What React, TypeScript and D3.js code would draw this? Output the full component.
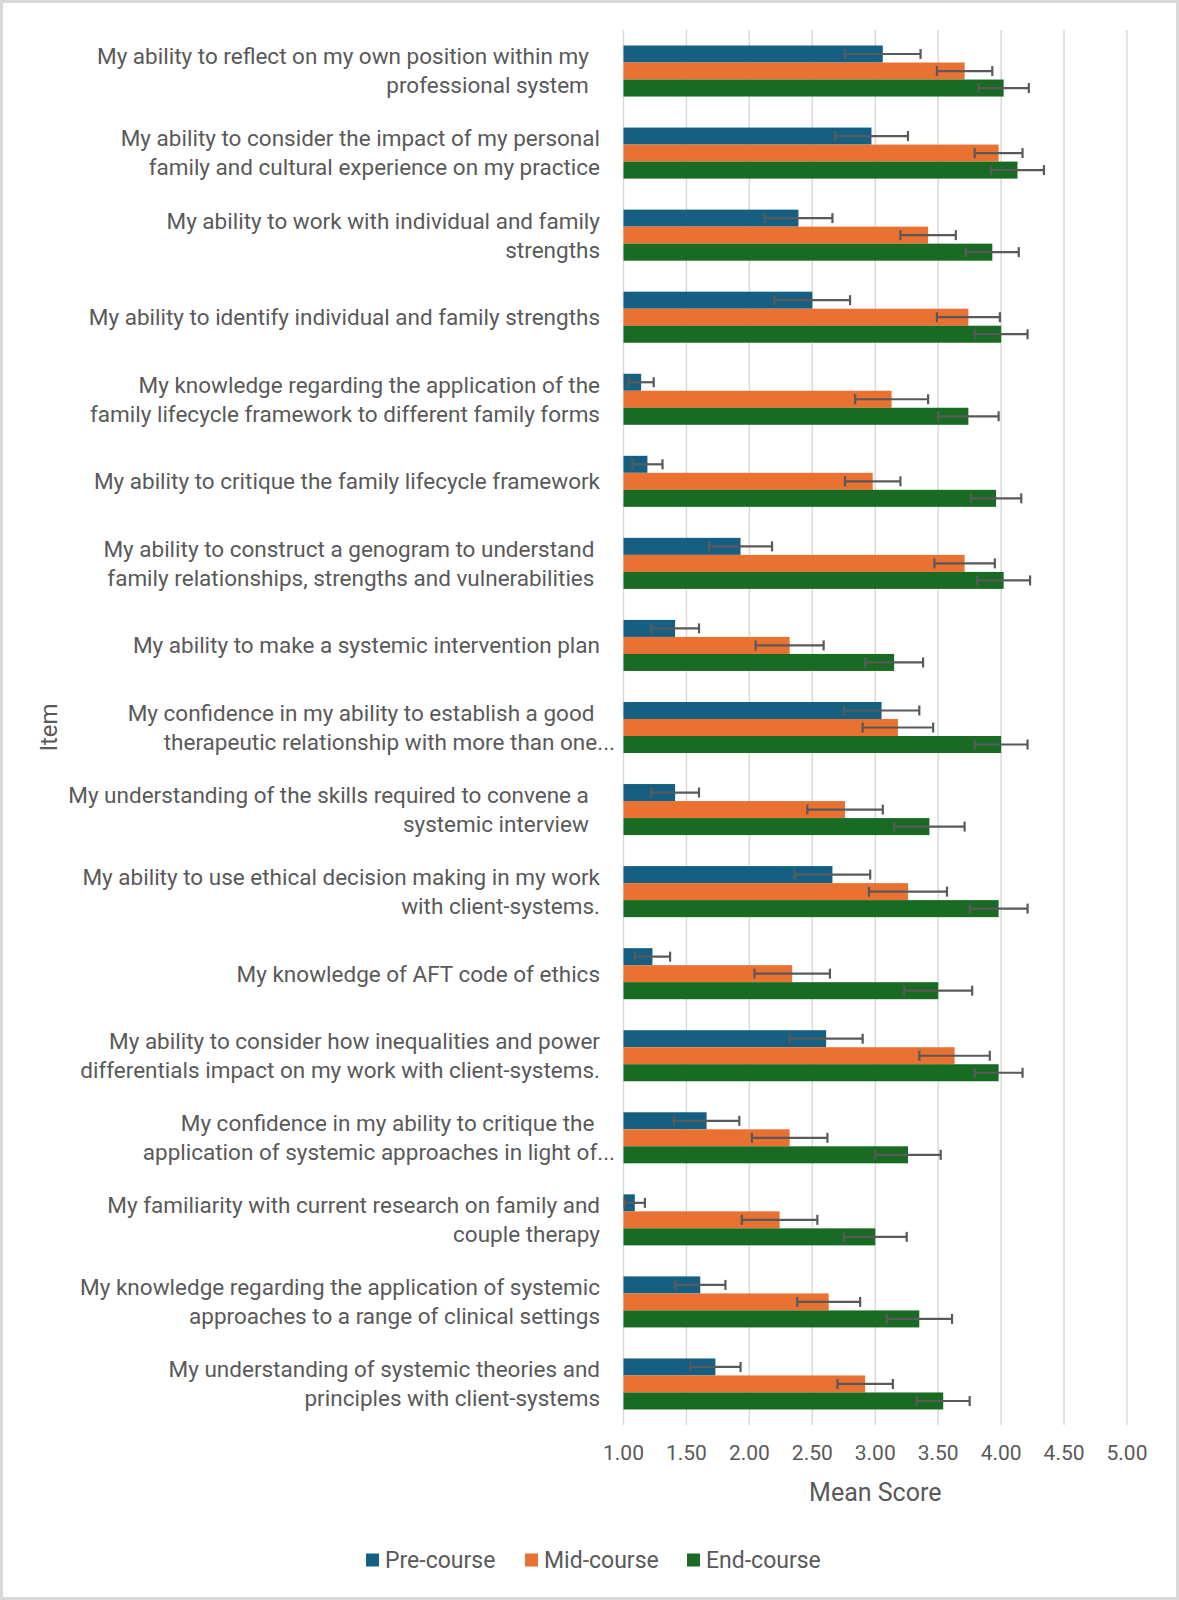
import { useEffect } from 'react';
import * as d3 from 'd3';

// item labels, already wrapped as in the source chart (trailing spaces kept)
const itemLines: string[][] = [
  ['My ability to reflect on my own position within my  ', 'professional system  '],
  ['My ability to consider the impact of my personal', 'family and cultural experience on my practice'],
  ['My ability to work with individual and family', 'strengths'],
  ['My ability to identify individual and family strengths'],
  ['My knowledge regarding the application of the', 'family lifecycle framework to different family forms'],
  ['My ability to critique the family lifecycle framework'],
  ['My ability to construct a genogram to understand ', 'family relationships, strengths and vulnerabilities '],
  ['My ability to make a systemic intervention plan'],
  ['My confidence in my ability to establish a good ', 'therapeutic relationship with more than one...'],
  ['My understanding of the skills required to convene a  ', 'systemic interview  '],
  ['My ability to use ethical decision making in my work', 'with client-systems.'],
  ['My knowledge of AFT code of ethics'],
  ['My ability to consider how inequalities and power', 'differentials impact on my work with client-systems.'],
  ['My confidence in my ability to critique the ', 'application of systemic approaches in light of...'],
  ['My familiarity with current research on family and', 'couple therapy'],
  ['My knowledge regarding the application of systemic', 'approaches to a range of clinical settings'],
  ['My understanding of systemic theories and', 'principles with client-systems'],
];

const preMean = [3.06, 2.97, 2.39, 2.50, 1.14, 1.19, 1.93, 1.41, 3.05, 1.41, 2.66, 1.23, 2.61, 1.66, 1.09, 1.61, 1.73];
const preErr = [0.30, 0.29, 0.27, 0.30, 0.10, 0.12, 0.25, 0.19, 0.30, 0.19, 0.30, 0.14, 0.29, 0.26, 0.08, 0.20, 0.20];
const midMean = [3.71, 3.98, 3.42, 3.74, 3.13, 2.98, 3.71, 2.32, 3.18, 2.76, 3.26, 2.34, 3.63, 2.32, 2.24, 2.63, 2.92];
const midErr = [0.22, 0.19, 0.22, 0.25, 0.29, 0.22, 0.24, 0.27, 0.28, 0.30, 0.31, 0.30, 0.28, 0.30, 0.30, 0.25, 0.22];
const endMean = [4.02, 4.13, 3.93, 4.00, 3.74, 3.96, 4.02, 3.15, 4.00, 3.43, 3.98, 3.50, 3.98, 3.26, 3.00, 3.35, 3.54];
const endErr = [0.20, 0.21, 0.21, 0.21, 0.24, 0.20, 0.21, 0.23, 0.21, 0.28, 0.23, 0.27, 0.19, 0.26, 0.25, 0.26, 0.21];

const seriesNames = ['Pre-course', 'Mid-course', 'End-course'];
const seriesColors = ['#156082', '#E97132', '#196B24'];
const xTicks = [1, 1.5, 2, 2.5, 3, 3.5, 4, 4.5, 5];

const W = 1179;
const H = 1600;
const TEXT = '#595959';
const FONT = 'Roboto, "Liberation Sans", Arial, sans-serif';

export default function App() {
  useEffect(() => {
    document.body.style.margin = '0';
  }, []);

  const means = [preMean, midMean, endMean];
  const errs = [preErr, midErr, endErr];

  const x = d3.scaleLinear().domain([1, 5]).range([623.5, 1127]);
  const y = d3.scaleBand<number>()
    .domain(itemLines.map((_, i) => i))
    .range([30, 1425])
    .paddingInner(0.378)
    .paddingOuter(0.189);
  const ySub = d3.scaleBand<number>()
    .domain([0, 1, 2])
    .range([0, y.bandwidth()]);

  const labelRight = 600;
  const lineH = 29;
  const capH = 10;

  return (
    <svg width={W} height={H} style={{ display: 'block', fontFamily: FONT }}>
      <rect x={0} y={0} width={W} height={H} fill="#fff" />
      <rect x={1.5} y={1.5} width={W - 3} height={H - 3} fill="none" stroke="#d9d9d9" strokeWidth={3} />

      {/* gridlines */}
      {xTicks.map(t => (
        <line key={'g' + t} x1={x(t)} x2={x(t)} y1={30} y2={1425} stroke="#d9d9d9" strokeWidth={1.5} />
      ))}

      {/* bars */}
      {itemLines.map((_, i) => (
        <g key={'row' + i} transform={`translate(0,${y(i)})`}>
          {means.map((m, s) => (
            <rect key={'b' + s} x={x(1)} y={ySub(s)} width={x(m[i]) - x(1)} height={ySub.bandwidth()}
              fill={seriesColors[s]} />
          ))}
          {means.map((m, s) => {
            const cy = (ySub(s) as number) + ySub.bandwidth() / 2;
            const lo = x(m[i] - errs[s][i]);
            const hi = x(m[i] + errs[s][i]);
            return (
              <g key={'e' + s} stroke="#595959" strokeWidth={2.2}>
                <line x1={lo} x2={hi} y1={cy} y2={cy} />
                <line x1={lo} x2={lo} y1={cy - capH / 2} y2={cy + capH / 2} />
                <line x1={hi} x2={hi} y1={cy - capH / 2} y2={cy + capH / 2} />
              </g>
            );
          })}
        </g>
      ))}

      {/* category labels */}
      {itemLines.map((lines, i) => {
        const cy = (y(i) as number) + y.bandwidth() / 2;
        const top = cy - ((lines.length - 1) * lineH) / 2;
        return (
          <text key={'l' + i} fill={TEXT} fontSize={22.5} textAnchor="end" style={{ whiteSpace: 'pre' }}>
            {lines.map((ln, k) => (
              <tspan key={k} x={labelRight + (ln.endsWith('...') ? 15 : 0)} y={top + k * lineH} dy="0.35em">{ln}</tspan>
            ))}
          </text>
        );
      })}

      {/* x tick labels */}
      {xTicks.map(t => (
        <text key={'t' + t} x={x(t)} y={1453} dy="0.35em" textAnchor="middle" fontSize={21} fill={TEXT}>
          {d3.format('.2f')(t)}
        </text>
      ))}

      <text x={(x(1) + x(5)) / 2} y={1492} dy="0.35em" textAnchor="middle" fontSize={25} fill={TEXT}>Mean Score</text>
      <text transform={`translate(49,${(30 + 1425) / 2}) rotate(-90)`} textAnchor="middle" dy="0.35em" fontSize={24} fill={TEXT}>Item</text>

      {/* legend */}
      <g transform="translate(366,1560)">
        {seriesNames.map((name, s) => {
          const ox = [0, 159, 321][s];
          return (
            <g key={name} transform={`translate(${ox},0)`}>
              <rect x={0} y={-6.5} width={13} height={13} fill={seriesColors[s]} />
              <text x={19} y={0} dy="0.35em" fontSize={23} fill={TEXT}>{name}</text>
            </g>
          );
        })}
      </g>
    </svg>
  );
}
